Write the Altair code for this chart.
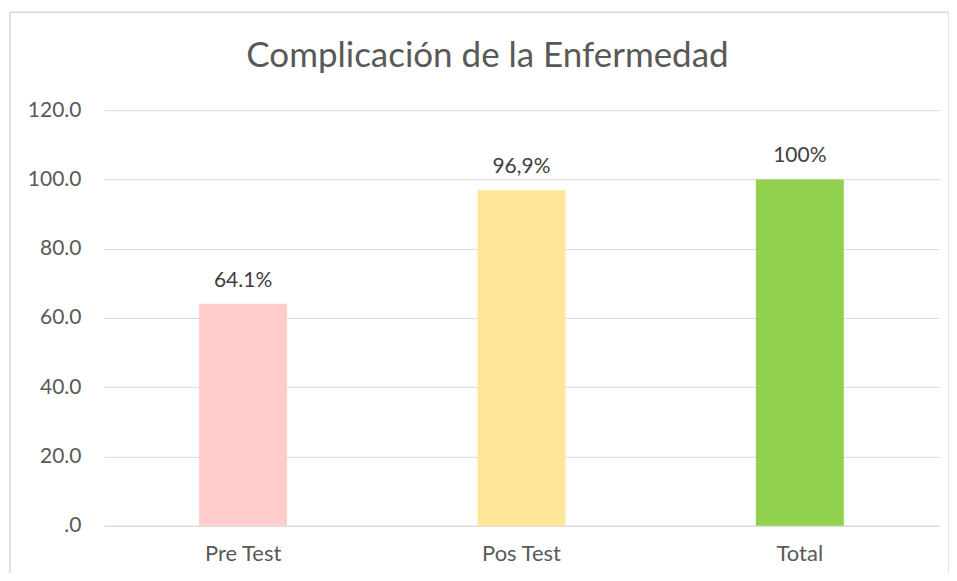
import altair as alt
import pandas as pd

categories = ["Pre Test", "Pos Test", "Total"]
values = [64.1, 96.9, 100.0]
labels = ["64.1%", "96,9%", "100%"]
colors = ["#FFCCCC", "#FFE699", "#92D050"]
title_text = "Complicación de la Enfermedad"

df = pd.DataFrame({"cat": categories, "val": values, "lab": labels, "col": colors})

FONT = "Lato"

x = alt.X("cat:N", sort=categories, title=None,
          scale=alt.Scale(paddingInner=0.684, paddingOuter=0.342),
          axis=alt.Axis(labelAngle=0, labelFontSize=22, labelColor="#595959",
                        labelFont=FONT, ticks=False, domain=True,
                        domainColor="#D9D9D9", labelPadding=18))
y = alt.Y("val:Q", title=None,
          scale=alt.Scale(domain=[0, 120], nice=False),
          axis=alt.Axis(values=[0, 20, 40, 60, 80, 100, 120],
                        labelExpr="datum.value == 0 ? '.0' : format(datum.value, '.1f')",
                        labelFontSize=21, labelColor="#595959", labelFont=FONT,
                        ticks=False, domain=False, gridColor="#D9D9D9",
                        labelPadding=23))

border = alt.Chart(pd.DataFrame({"a": [0]})).mark_rect(
    filled=False, stroke="#D9D9D9", strokeWidth=1.5, clip=False
).encode(x=alt.value(-94), x2=alt.value(846), y=alt.value(-98), y2=alt.value(470))

title = alt.Chart(pd.DataFrame({"t": [title_text]})).mark_text(
    fontSize=35, font=FONT, color="#595959", baseline="middle", align="center"
).encode(x=alt.value(384), y=alt.value(-54), text="t:N")

bars = alt.Chart(df).mark_bar().encode(
    x=x, y=y, color=alt.Color("col:N", scale=None)
)
text = alt.Chart(df).mark_text(dy=-23, fontSize=21, color="#404040", font=FONT).encode(
    x=alt.X("cat:N", sort=categories), y="val:Q", text="lab:N"
)

chart = alt.layer(border, title, bars, text).properties(
    width=836, height=416,
    padding={"left": 96, "top": 102, "right": 10, "bottom": 47},
    autosize=alt.AutoSizeParams(type="none"),
).configure_view(stroke=None)

chart.save("out.html", embed_options={"renderer": "svg", "actions": False})
